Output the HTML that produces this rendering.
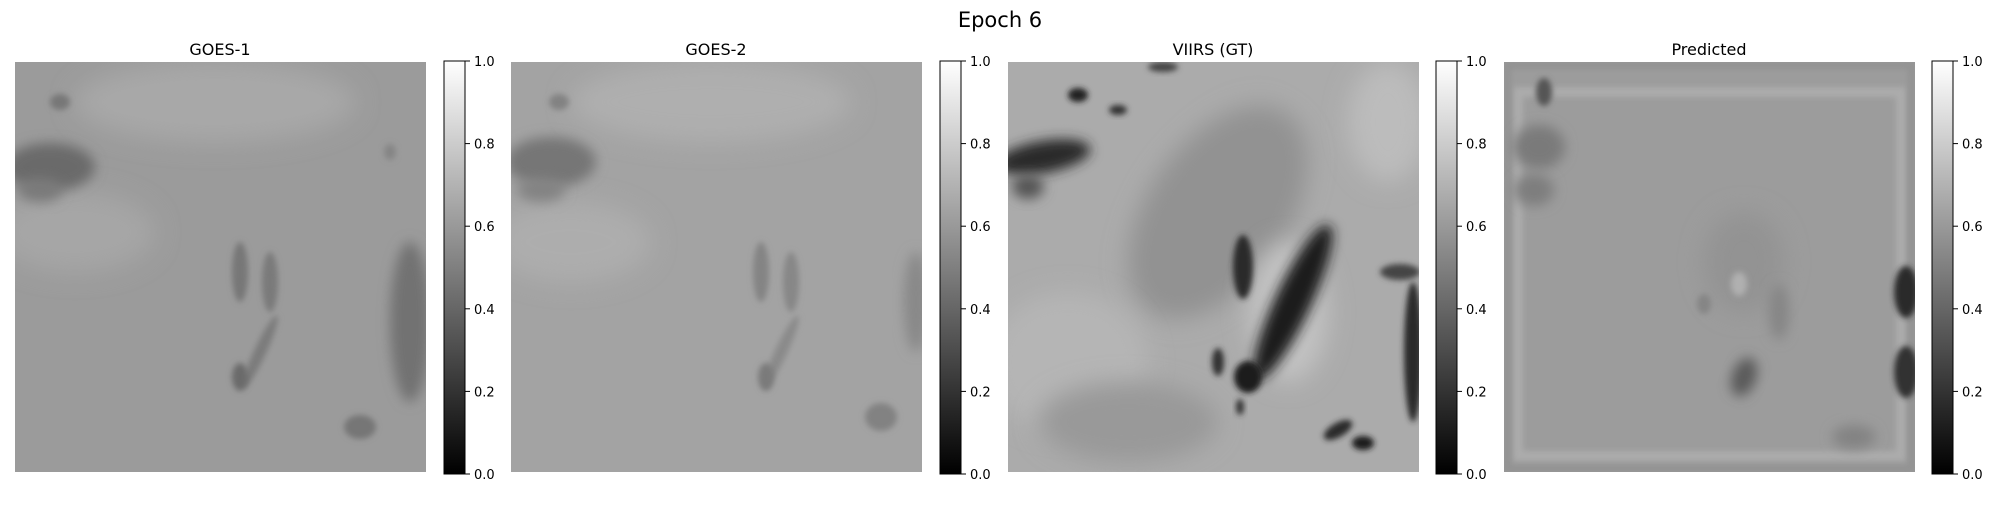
<!DOCTYPE html>
<html><head><meta charset="utf-8">
<style>
html,body{margin:0;padding:0;background:#fff;}
svg text{font-family:"DejaVu Sans","Liberation Sans",sans-serif;fill:#000;}
</style></head>
<body>
<svg id="fig" width="2000" height="500" viewBox="0 0 2000 500" xmlns="http://www.w3.org/2000/svg">
<defs>
  <linearGradient id="cb" x1="0" y1="0" x2="0" y2="1">
    <stop offset="0" stop-color="#fff"/><stop offset="1" stop-color="#000"/>
  </linearGradient>
  <filter id="b6" x="-50%" y="-50%" width="200%" height="200%"><feGaussianBlur stdDeviation="6"/></filter>
  <filter id="b3" x="-50%" y="-50%" width="200%" height="200%"><feGaussianBlur stdDeviation="3"/></filter>
  <filter id="b12" x="-50%" y="-50%" width="200%" height="200%"><feGaussianBlur stdDeviation="12"/></filter>
  <clipPath id="cp"><rect x="0" y="0" width="411" height="410"/></clipPath>
</defs>
<text x="1000" y="27" font-size="21" text-anchor="middle">Epoch 6</text>

<!-- GOES-1 -->
<g transform="translate(15,62)">
  <text x="205" y="-7" font-size="16" text-anchor="middle">GOES-1</text>
  <g clip-path="url(#cp)">
    <rect width="411" height="410" fill="#9b9b9b"/>
    <ellipse cx="200" cy="40" rx="140" ry="40" fill="#a8a8a8" filter="url(#b12)"/>
    <ellipse cx="60" cy="170" rx="80" ry="40" fill="#a6a6a6" filter="url(#b12)"/>
    <ellipse cx="35" cy="105" rx="45" ry="24" fill="#6a6a6a" filter="url(#b6)"/>
    <ellipse cx="45" cy="40" rx="10" ry="8" fill="#777" filter="url(#b3)"/>
    <ellipse cx="25" cy="128" rx="22" ry="12" fill="#7a7a7a" filter="url(#b6)"/>
    <ellipse cx="225" cy="210" rx="8" ry="30" fill="#777" filter="url(#b3)"/>
    <ellipse cx="255" cy="220" rx="8" ry="30" fill="#7a7a7a" filter="url(#b3)"/>
    <ellipse cx="245" cy="290" rx="6" ry="40" fill="#7c7c7c" filter="url(#b3)" transform="rotate(25 245 290)"/>
    <ellipse cx="225" cy="315" rx="8" ry="14" fill="#6a6a6a" filter="url(#b3)"/>
    <ellipse cx="395" cy="260" rx="20" ry="80" fill="#727272" filter="url(#b6)"/>
    <ellipse cx="345" cy="365" rx="16" ry="12" fill="#767676" filter="url(#b3)"/>
    <ellipse cx="375" cy="90" rx="6" ry="8" fill="#858585" filter="url(#b3)"/>
  </g>
</g>
<!-- GOES-2 -->
<g transform="translate(511,62)">
  <text x="205" y="-7" font-size="16" text-anchor="middle">GOES-2</text>
  <g clip-path="url(#cp)">
    <rect width="411" height="410" fill="#a3a3a3"/>
    <ellipse cx="200" cy="40" rx="140" ry="40" fill="#afafaf" filter="url(#b12)"/>
    <ellipse cx="60" cy="180" rx="80" ry="40" fill="#adadad" filter="url(#b12)"/>
    <ellipse cx="40" cy="100" rx="45" ry="25" fill="#767676" filter="url(#b6)"/>
    <ellipse cx="48" cy="40" rx="10" ry="8" fill="#828282" filter="url(#b3)"/>
    <ellipse cx="30" cy="128" rx="24" ry="12" fill="#838383" filter="url(#b6)"/>
    <ellipse cx="250" cy="210" rx="8" ry="30" fill="#848484" filter="url(#b3)"/>
    <ellipse cx="280" cy="220" rx="8" ry="30" fill="#878787" filter="url(#b3)"/>
    <ellipse cx="270" cy="290" rx="6" ry="40" fill="#8a8a8a" filter="url(#b3)" transform="rotate(25 270 290)"/>
    <ellipse cx="255" cy="315" rx="8" ry="14" fill="#7a7a7a" filter="url(#b3)"/>
    <ellipse cx="405" cy="240" rx="12" ry="50" fill="#888" filter="url(#b6)"/>
    <ellipse cx="370" cy="355" rx="16" ry="14" fill="#828282" filter="url(#b3)"/>
  </g>
</g>
<!-- VIIRS -->
<g transform="translate(1008,62)">
  <text x="205" y="-7" font-size="16" text-anchor="middle">VIIRS (GT)</text>
  <g clip-path="url(#cp)">
    <rect width="411" height="410" fill="#ababab"/>
    <ellipse cx="210" cy="150" rx="70" ry="120" fill="#929292" filter="url(#b12)" transform="rotate(35 210 150)"/>
    <ellipse cx="60" cy="300" rx="80" ry="70" fill="#b5b5b5" filter="url(#b12)"/>
    <ellipse cx="280" cy="250" rx="40" ry="70" fill="#c2c2c2" filter="url(#b12)"/>
    <ellipse cx="120" cy="360" rx="90" ry="40" fill="#999" filter="url(#b12)"/>
    <ellipse cx="380" cy="60" rx="40" ry="60" fill="#bcbcbc" filter="url(#b12)"/>
    <ellipse cx="35" cy="95" rx="48" ry="16" fill="#2a2a2a" filter="url(#b6)" transform="rotate(-10 35 95)"/>
    <ellipse cx="70" cy="33" rx="10" ry="7" fill="#222" filter="url(#b3)"/>
    <ellipse cx="110" cy="48" rx="9" ry="5" fill="#333" filter="url(#b3)"/>
    <ellipse cx="20" cy="125" rx="16" ry="12" fill="#555" filter="url(#b6)"/>
    <ellipse cx="285" cy="240" rx="18" ry="85" fill="#1e1e1e" filter="url(#b6)" transform="rotate(25 285 240)"/>
    <ellipse cx="235" cy="205" rx="10" ry="32" fill="#2a2a2a" filter="url(#b3)"/>
    <ellipse cx="240" cy="315" rx="14" ry="16" fill="#1a1a1a" filter="url(#b3)"/>
    <ellipse cx="210" cy="300" rx="6" ry="14" fill="#333" filter="url(#b3)"/>
    <ellipse cx="232" cy="345" rx="4" ry="8" fill="#333" filter="url(#b3)"/>
    <ellipse cx="405" cy="290" rx="9" ry="70" fill="#2a2a2a" filter="url(#b3)"/>
    <ellipse cx="392" cy="210" rx="20" ry="8" fill="#444" filter="url(#b3)"/>
    <ellipse cx="330" cy="368" rx="16" ry="7" fill="#2a2a2a" filter="url(#b3)" transform="rotate(-30 330 368)"/>
    <ellipse cx="355" cy="381" rx="11" ry="7" fill="#1e1e1e" filter="url(#b3)"/>
    <ellipse cx="155" cy="5" rx="15" ry="5" fill="#444" filter="url(#b3)"/>
  </g>
</g>
<!-- Predicted -->
<g transform="translate(1504,62)">
  <text x="205" y="-7" font-size="16" text-anchor="middle">Predicted</text>
  <g clip-path="url(#cp)">
    <rect width="411" height="410" fill="#9c9c9c"/>
    <rect x="14" y="30" width="383" height="364" fill="none" stroke="#acacac" stroke-width="10" filter="url(#b3)"/>
    <rect x="3" y="3" width="405" height="404" fill="none" stroke="#939393" stroke-width="8" filter="url(#b3)"/>
    <ellipse cx="40" cy="30" rx="8" ry="14" fill="#555" filter="url(#b3)"/>
    <ellipse cx="35" cy="85" rx="26" ry="22" fill="#7a7a7a" filter="url(#b6)"/>
    <ellipse cx="30" cy="128" rx="20" ry="16" fill="#7e7e7e" filter="url(#b6)"/>
    <ellipse cx="240" cy="200" rx="40" ry="50" fill="#939393" filter="url(#b12)"/>
    <ellipse cx="235" cy="222" rx="8" ry="12" fill="#b0b0b0" filter="url(#b3)"/>
    <ellipse cx="200" cy="242" rx="7" ry="10" fill="#858585" filter="url(#b3)"/>
    <ellipse cx="275" cy="250" rx="10" ry="28" fill="#858585" filter="url(#b6)"/>
    <ellipse cx="240" cy="315" rx="12" ry="20" fill="#5a5a5a" filter="url(#b6)" transform="rotate(20 240 315)"/>
    <ellipse cx="402" cy="230" rx="12" ry="26" fill="#2a2a2a" filter="url(#b3)"/>
    <ellipse cx="402" cy="310" rx="12" ry="26" fill="#333" filter="url(#b3)"/>
    <ellipse cx="350" cy="375" rx="22" ry="12" fill="#838383" filter="url(#b6)"/>
  </g>
</g>
<g id="cbars"></g>
<script>
const tickValues = [0.0, 0.2, 0.4, 0.6, 0.8, 1.0];
const tickLabels = ["0.0", "0.2", "0.4", "0.6", "0.8", "1.0"];
const cbarNames = ["goes1", "goes2", "viirs", "predicted"];
const cbarX = [444, 940, 1436, 1932];
const cbTop = 61, cbBottom = 474, cbW = 21;
const yScale = v => cbBottom - v * (cbBottom - cbTop);
const NS = "http://www.w3.org/2000/svg";
const cbRoot = document.getElementById('cbars');
cbarNames.forEach((nm, i) => {
  const g = document.createElementNS(NS, 'g');
  
  
  const r = document.createElementNS(NS, 'rect');
  r.setAttribute('x', cbarX[i]); r.setAttribute('y', cbTop);
  r.setAttribute('width', cbW); r.setAttribute('height', cbBottom - cbTop);
  r.setAttribute('fill', 'url(#cb)'); r.setAttribute('stroke', '#000'); r.setAttribute('stroke-width', '1');
  
  
  g.appendChild(r);
  tickValues.forEach((v, j) => {
    const y = yScale(v);
    const l = document.createElementNS(NS, 'line');
    l.setAttribute('x1', cbarX[i] + cbW); l.setAttribute('x2', cbarX[i] + cbW + 5);
    l.setAttribute('y1', y); l.setAttribute('y2', y); l.setAttribute('stroke', '#000');
    
    
    g.appendChild(l);
    const t = document.createElementNS(NS, 'text');
    t.setAttribute('x', cbarX[i] + cbW + 9); t.setAttribute('y', y + 5);
    t.setAttribute('font-size', '13');
    t.textContent = tickLabels[j];
    
    
    g.appendChild(t);
  });
  cbRoot.appendChild(g);
});
</script>
</svg>
</body></html>
